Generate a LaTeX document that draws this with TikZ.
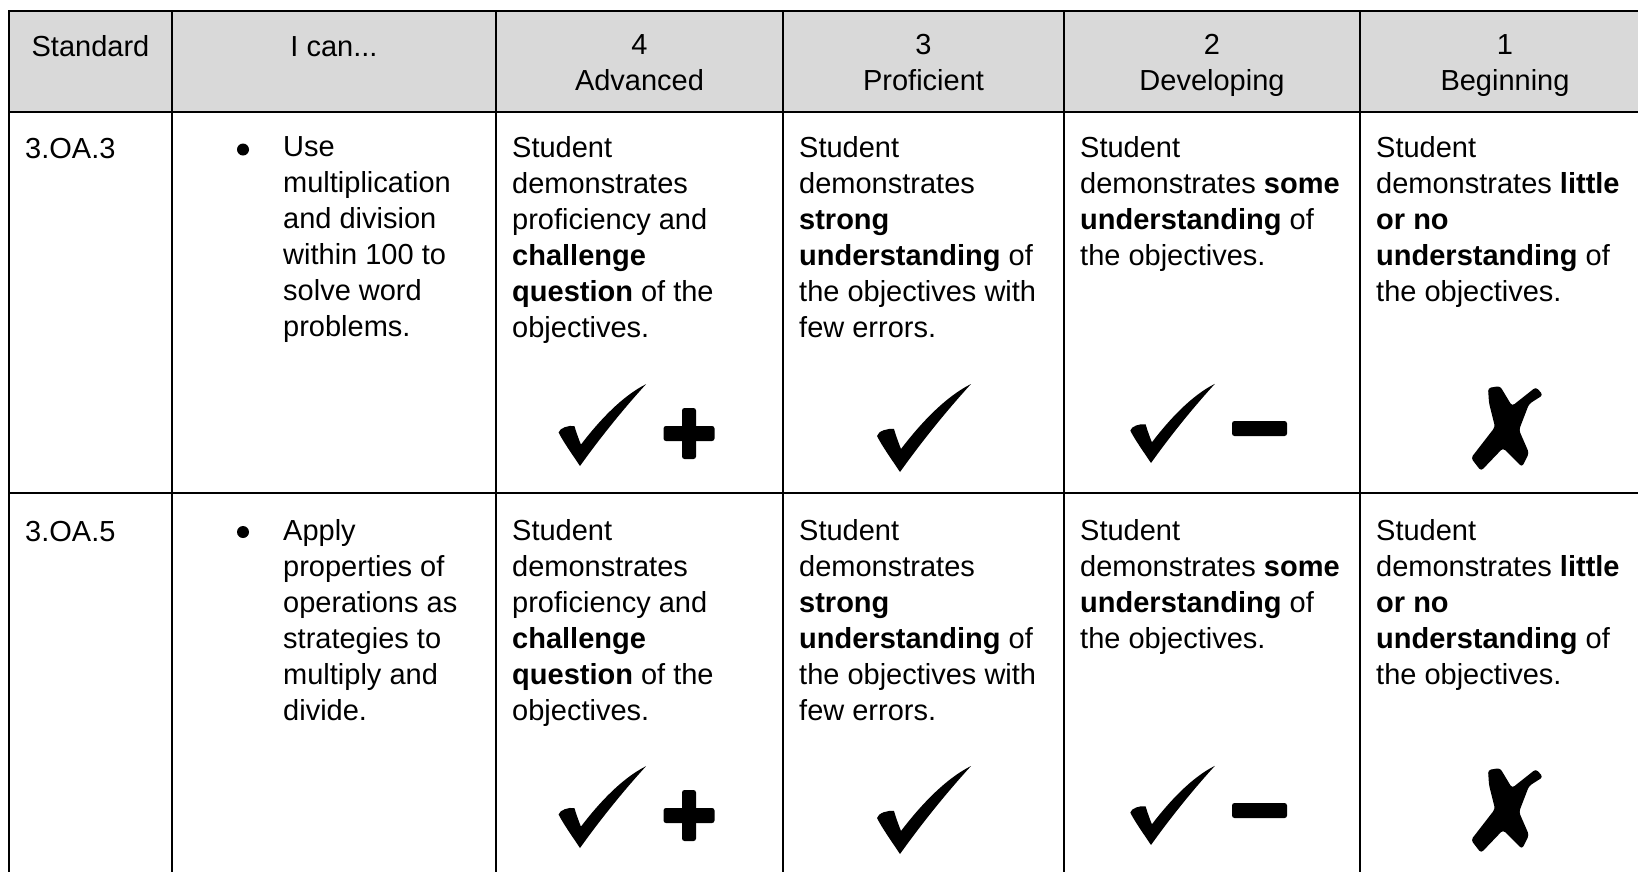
\documentclass[tikz,border=0pt]{standalone}
\usepackage{fontspec}
\setmainfont{Liberation Sans}
\definecolor{headgray}{RGB}{217,217,217}

\tikzset{
  chk/.pic={\fill (0,0) .. controls (-8,-12) and (-18,-26) .. (-23,-36)
      .. controls (-22,-41) and (-12,-44) .. (-6,-43)
      .. controls (-4,-36) and (-1,-28) .. (1,-23)
      .. controls (20,-48) and (45,-75) .. (71,-88)
      .. controls (50,-65) and (25,-35) .. (0,0) -- cycle;},
  plusmk/.pic={\fill[rounded corners=2.5pt] (-25.5,-7.5) rectangle (25.5,7.5);
      \fill[rounded corners=2.5pt] (-7,-25.5) rectangle (7,25.5);},
  minusmk/.pic={\fill[rounded corners=2.5pt] (-27.5,-7.5) rectangle (27.5,7.5);},
  xmk/.pic={\fill[rounded corners=3pt] (-19,-40) -- (-7,-42) -- (5,-22) -- (29,-41)
      -- (36,-33) -- (22,-24) -- (12,2) -- (22,25) -- (15,39) -- (-4,20)
      -- (-26,43) -- (-36,30) -- (-12,-1) -- (-18,-25) -- cycle;}
}

\begin{document}
\begin{tikzpicture}[x=1pt,y=-1pt]
  \tikzstyle{grid line}=[line width=2.6pt]
  \tikzstyle{txt}=[inner sep=0pt, anchor=north west, align=left,
    font=\fontsize{29}{36}\selectfont, execute at begin node={\rule{0pt}{22pt}}]
  \tikzstyle{head}=[txt, anchor=north, align=center]

  \fill[white] (0,0) rectangle (1638,871);
  \useasboundingbox (0,0) rectangle (1638,871);

  % header band and rules
  \fill[headgray] (9,11) rectangle (1660,112);
  \draw[grid line] (1660,11) -- (9,11) -- (9,890);
  \draw[grid line] (9,112) -- (1660,112);
  \draw[grid line] (9,493) -- (1660,493);
  \draw[grid line] (172,11) -- (172,890);
  \draw[grid line] (496,11) -- (496,890);
  \draw[grid line] (783,11) -- (783,890);
  \draw[grid line] (1064,11) -- (1064,890);
  \draw[grid line] (1360,11) -- (1360,890);

  \node[head] (h_std) at (90.5,34.5) {Standard};
  \node[head] (h_can) at (334,34.5) {I can...};
  \node[head] (h_4) at (639.5,34.5) {4\\Advanced};
  \node[head] (h_3) at (923.5,34.5) {3\\Proficient};
  \node[head] (h_2) at (1212,34.5) {2\\Developing};
  \node[head] (h_1) at (1505,34.5) {1\\Beginning};

  % first row
  \node[txt] (std_1) at (25,136.5) {3.OA.3};
  \fill (243,149.5) circle (6pt);
  \node[txt] (can_1) at (283,136.5) {Use\\multiplication\\and division\\within 100 to\\solve word\\problems.};
  \node[txt] (adv_1) at (512,136.5) {Student\\demonstrates\\proficiency and\\\textbf{challenge}\\\textbf{question} of the\\objectives.};
  \node[txt] (pro_1) at (799,136.5) {Student\\demonstrates\\\textbf{strong}\\\textbf{understanding} of\\the objectives with\\few errors.};
  \node[txt] (dev_1) at (1080,136.5) {Student\\demonstrates \textbf{some}\\\textbf{understanding} of\\the objectives.};
  \node[txt] (beg_1) at (1376,136.5) {Student\\demonstrates \textbf{little}\\\textbf{or no}\\\textbf{understanding} of\\the objectives.};

  \pic[scale=0.93] at (580,466) {chk};
  \pic at (689,433.5) {plusmk};
  \pic at (900,472) {chk};
  \pic[scale=0.9] at (1151,463) {chk};
  \pic at (1259.5,428.5) {minusmk};
  \pic at (1507,428) {xmk};

  % second row
  \node[txt] (std_2) at (25,519) {3.OA.5};
  \fill (243,532) circle (6pt);
  \node[txt] (can_2) at (283,519) {Apply\\properties of\\operations as\\strategies to\\multiply and\\divide.};
  \node[txt] (adv_2) at (512,519) {Student\\demonstrates\\proficiency and\\\textbf{challenge}\\\textbf{question} of the\\objectives.};
  \node[txt] (pro_2) at (799,519) {Student\\demonstrates\\\textbf{strong}\\\textbf{understanding} of\\the objectives with\\few errors.};
  \node[txt] (dev_2) at (1080,519) {Student\\demonstrates \textbf{some}\\\textbf{understanding} of\\the objectives.};
  \node[txt] (beg_2) at (1376,519) {Student\\demonstrates \textbf{little}\\\textbf{or no}\\\textbf{understanding} of\\the objectives.};

  \pic[scale=0.93] at (580,848) {chk};
  \pic at (689,815.5) {plusmk};
  \pic at (900,854) {chk};
  \pic[scale=0.9] at (1151,845) {chk};
  \pic at (1259.5,810.5) {minusmk};
  \pic at (1507,810) {xmk};
\end{tikzpicture}
\end{document}
